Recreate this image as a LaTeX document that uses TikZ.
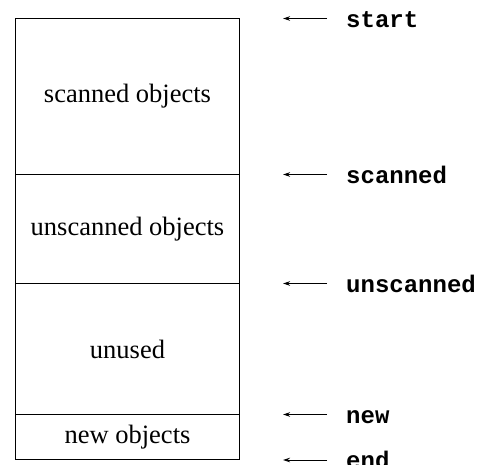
\documentclass[tikz,border=0pt]{standalone}
\usepackage{fontspec}
\setmainfont{Liberation Serif}
\newfontfamily\codefont{Liberation Mono}
\usetikzlibrary{arrows.meta}
\begin{document}
\begin{tikzpicture}[x=1pt,y=-1pt,
  region/.style={draw=black,line width=1pt,minimum width=224pt,inner sep=0pt,anchor=north west,font=\fontsize{26.5}{30}\selectfont},
  ptrlabel/.style={anchor=base west,inner sep=0pt,font=\codefont\bfseries\fontsize{24}{28}\selectfont},
  ptr/.style={line width=0.9pt,-{Stealth[length=7pt,width=4.5pt]}}]
\useasboundingbox (0,0) rectangle (483,465);
\node[region,minimum height=156pt] (s) at (15,18) {scanned objects};
\node[region,minimum height=109pt] (u) at (15,174) {unscanned objects};
\node[region,minimum height=131pt] (f) at (15,283) {unused};
\node[region,minimum height=45pt] (n) at (15,414) {new objects};
% pointer labels
\node[ptrlabel] (lstart) at (346,27.5) {start};
\node[ptrlabel] (lscanned) at (346,183.5) {scanned};
\node[ptrlabel] (lunscanned) at (346,292.5) {unscanned};
\node[ptrlabel] (lnew) at (346,423.5) {new};
\node[ptrlabel] (lend) at (346,469) {end};
% arrow ends
\coordinate (a1) at (327,18.5);  \coordinate (t1) at (283,18.5);
\coordinate (a2) at (327,174.5); \coordinate (t2) at (283,174.5);
\coordinate (a3) at (327,283.5); \coordinate (t3) at (283,283.5);
\coordinate (a4) at (327,414.5); \coordinate (t4) at (283,414.5);
\coordinate (a5) at (327,460);   \coordinate (t5) at (283,460);
\draw[ptr] (a1) -- (t1);
\draw[ptr] (a2) -- (t2);
\draw[ptr] (a3) -- (t3);
\draw[ptr] (a4) -- (t4);
\draw[ptr] (a5) -- (t5);
\end{tikzpicture}
\end{document}
